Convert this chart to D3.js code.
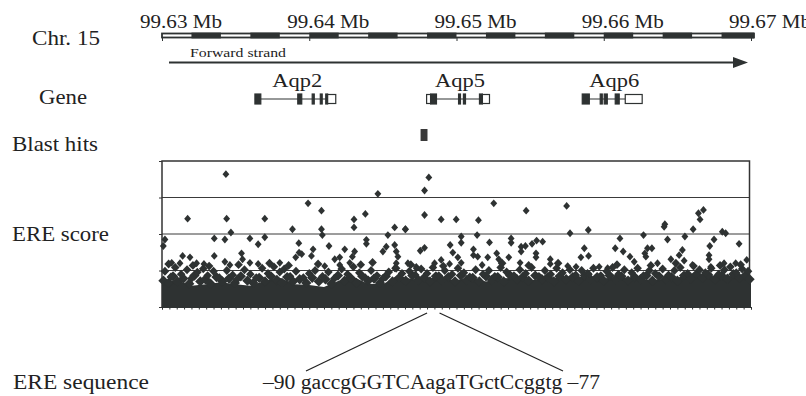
<!DOCTYPE html>
<html>
<head>
<meta charset="utf-8">
<script src="https://cdn.jsdelivr.net/npm/d3@7"></script>
<style>
  body { margin: 0; background: #fff; }
  svg { display: block; }
  text { font-family: "Liberation Serif", "Times New Roman", serif; fill: #222; }
</style>
</head>
<body>
<svg id="chart" width="806" height="396"></svg>
<script>
// region shown: 99.63 - 99.67 Mb on chr 15, positions below are kb from 99.63 Mb
const regionStart = 99.63;
const rulerTicks = [0, 10, 20, 30, 40];
const rulerLabels = ["99.63 Mb", "99.64 Mb", "99.65 Mb", "99.66 Mb", "99.67 Mb"];
const rulerDark = [2, 6, 10, 14, 18, 22, 26, 30, 34, 38]; // 2 kb dark blocks

const genes = [
  { name: "Aqp2", exons: [[6.31, 6.71, "cds"], [9.22, 9.49, "cds"], [10.2, 10.34, "cds"], [10.75, 10.88, "cds"], [11.12, 11.25, "cds"], [11.25, 11.8, "utr"]] },
  { name: "Aqp5", exons: [[17.97, 18.24, "utr"], [18.24, 18.64, "cds"], [20.14, 20.27, "cds"], [20.47, 20.61, "cds"], [21.56, 21.76, "cds"], [21.76, 22.24, "utr"]] },
  { name: "Aqp6", exons: [[28.54, 29.02, "cds"], [29.76, 29.9, "cds"], [30.03, 30.24, "cds"], [30.78, 31.05, "cds"], [31.46, 32.61, "utr"]] }
];

const blastHits = [[17.56, 18.03]];
const ereSite = [18.0, 18.85];
const ereSequence = "\u201390 gaccgGGTCAagaTGctCcggtg \u201377";

// ERE score, single sites [kb, score]
const ereHigh = [
  [4.34, 3.64], [1.74, 2.42], [4.39, 2.42], [6.98, 2.42], [9.92, 2.84], [10.83, 2.64], [14.66, 3.1], [13.81, 2.55],
  [13.04, 2.4], [13.04, 2.18], [8.86, 2.13], [10.83, 2.13], [10.89, 1.97], [15.8, 2.18], [16.52, 2.13], [4.68, 2.04],
  [3.55, 1.88], [4.27, 1.85], [5.97, 1.88], [6.98, 1.91], [6.53, 1.72], [0.2, 1.85], [0.09, 1.67], [9.29, 1.75],
  [11.34, 1.67], [10.26, 1.58], [10.15, 1.4], [9.31, 1.49], [9.08, 1.36], [9.49, 1.45], [12.41, 1.58], [12.07, 1.36],
  [13.08, 1.52], [12.93, 1.38], [13.88, 1.84], [13.88, 1.73], [15.34, 1.97], [15.0, 1.52], [15.23, 1.65], [15.8, 1.7],
  [15.91, 1.52], [16.02, 1.38], [15.91, 1.2], [15.8, 1.06], [16.7, 1.2], [17.27, 1.06], [3.55, 1.4], [5.4, 1.47],
  [5.47, 1.31], [5.97, 1.21], [1.4, 1.4], [1.9, 1.36], [0.66, 1.21], [1.22, 1.2], [2.35, 1.2], [2.85, 1.18],
  [4.27, 1.24], [4.61, 1.15], [6.53, 1.18], [8.0, 1.21], [11.05, 1.12], [11.73, 1.31], [12.07, 1.15], [12.75, 1.21],
  [18.12, 3.55], [17.83, 3.19], [17.83, 2.52], [18.96, 2.4], [19.98, 2.4], [21.49, 2.38], [22.53, 2.84], [24.73, 2.64],
  [27.48, 2.77], [27.71, 2.02], [28.95, 2.11], [16.54, 2.13], [21.4, 1.97], [20.32, 1.93], [20.32, 1.76], [19.57, 1.7],
  [17.83, 1.62], [17.54, 1.54], [22.24, 1.77], [23.71, 1.88], [23.71, 1.76], [24.39, 1.65], [24.39, 1.52], [24.68, 1.67],
  [25.13, 1.73], [25.44, 1.82], [25.85, 1.79], [25.4, 1.47], [25.4, 1.36], [19.75, 1.49], [20.09, 1.36], [20.32, 1.21],
  [21.15, 1.58], [21.15, 1.42], [21.44, 1.38], [22.12, 1.36], [22.73, 1.47], [22.87, 1.31], [21.74, 1.15], [23.55, 1.36],
  [24.32, 1.21], [26.37, 1.31], [26.37, 1.18], [28.68, 1.61], [28.45, 1.36], [28.97, 1.4], [31.1, 1.88], [30.78, 1.61],
  [31.32, 1.52], [32.7, 1.97], [33.27, 1.61], [32.97, 1.61], [32.79, 1.47], [32.86, 1.38], [31.78, 1.38], [32.07, 1.24],
  [34.15, 2.27], [34.1, 2.2], [34.33, 1.85], [33.65, 1.2], [34.56, 1.31], [35.51, 1.93], [35.34, 1.56], [35.12, 1.42],
  [35.46, 1.27], [36.07, 2.13], [36.77, 2.66], [36.43, 2.57], [36.54, 2.4], [37.49, 1.85], [37.2, 1.67], [37.15, 1.42],
  [37.15, 1.31], [38.05, 2.06], [38.28, 2.02], [39.19, 1.73], [39.71, 1.29], [36.02, 1.15], [37.27, 1.1], [29.69, 1.1],
  [30.26, 1.06], [18.51, 1.2], [17.27, 1.1], [19.53, 1.18], [18.96, 1.29], [28.12, 1.1], [29.02, 0.9], [27.55, 1.12],
  [38.96, 1.2], [38.17, 1.2]
];

// loose sites just above the dense mass
const ereCloud = [
  [0.2, 0.98], [0.6, 0.82], [0.9, 1.08], [1.3, 0.9], [1.7, 1.02], [2.0, 0.78], [2.4, 0.95], [2.8, 1.05],
  [3.1, 0.86], [3.5, 0.98], [3.9, 0.8], [4.4, 1.0], [4.8, 0.88], [5.1, 0.76], [5.6, 1.02], [6.0, 0.9],
  [6.4, 0.8], [6.8, 1.06], [7.2, 0.92], [7.6, 1.1], [8.0, 0.96], [8.3, 1.04], [8.7, 0.84], [9.1, 0.98],
  [9.6, 0.8], [10.0, 0.92], [10.4, 1.0], [10.9, 0.84], [11.3, 0.96], [11.7, 0.78], [12.2, 1.04], [12.6, 0.9],
  [13.0, 1.1], [13.4, 0.94], [13.8, 0.8], [14.2, 1.0], [14.6, 0.86], [15.0, 0.78], [15.4, 0.96], [15.9, 1.06],
  [16.3, 0.92], [16.8, 0.98], [17.2, 0.88], [17.6, 1.04], [18.0, 0.92], [18.4, 1.08], [18.8, 0.86], [19.2, 1.0],
  [19.7, 0.9], [20.1, 1.06], [20.5, 0.94], [20.9, 0.82], [21.3, 1.02], [21.8, 0.9], [22.2, 1.0], [22.6, 0.84],
  [23.0, 1.08], [23.4, 0.96], [23.9, 0.86], [24.3, 1.02], [24.7, 0.92], [25.1, 1.08], [25.6, 0.84], [26.0, 1.0],
  [26.4, 0.9], [26.8, 1.06], [27.2, 0.94], [27.7, 1.02], [28.1, 0.88], [28.5, 1.0], [28.9, 0.92], [29.3, 1.06],
  [29.8, 0.86], [30.2, 0.98], [30.6, 1.08], [31.0, 0.9], [31.4, 1.02], [31.9, 0.94], [32.3, 1.06], [32.7, 0.86],
  [33.1, 1.0], [33.5, 0.92], [34.0, 1.04], [34.4, 0.88], [34.8, 1.0], [35.2, 1.08], [35.7, 0.92], [36.1, 1.12],
  [36.5, 1.02], [36.9, 0.94], [37.3, 1.06], [37.8, 0.9], [38.2, 1.02], [38.6, 1.1], [39.0, 0.94], [39.4, 1.04],
  [39.8, 0.98], [0.45, 1.18], [2.1, 1.14], [3.2, 1.12], [5.2, 1.16], [7.3, 1.2], [8.6, 1.14], [10.6, 1.18],
  [13.5, 1.16], [14.3, 1.22], [16.9, 1.16], [19.1, 1.12], [23.1, 1.2], [24.9, 1.14], [26.9, 1.2], [30.9, 1.16],
  [33.2, 1.14], [34.9, 1.2], [37.9, 1.14], [39.3, 1.16]
];

// lower layer of the low-score cloud
const ereCloudLow = [
  [0.1, 0.72], [0.45, 0.66], [0.75, 0.84], [1.05, 0.7], [1.45, 0.78], [1.85, 0.64], [2.2, 0.86], [2.6, 0.7],
  [2.95, 0.76], [3.3, 0.64], [3.7, 0.82], [4.1, 0.7], [4.55, 0.78], [4.95, 0.66], [5.35, 0.84], [5.8, 0.72],
  [6.2, 0.66], [6.6, 0.8], [7.0, 0.7], [7.4, 0.84], [7.8, 0.74], [8.15, 0.66], [8.5, 0.82], [8.9, 0.7],
  [9.35, 0.76], [9.8, 0.66], [10.2, 0.8], [10.65, 0.7], [11.1, 0.76], [11.5, 0.64], [11.95, 0.86], [12.4, 0.72],
  [12.8, 0.8], [13.2, 0.66], [13.6, 0.84], [14.0, 0.72], [14.4, 0.78], [14.8, 0.66], [15.2, 0.84], [15.65, 0.7],
  [16.1, 0.8], [16.55, 0.72], [17.0, 0.86], [17.4, 0.74], [17.8, 0.8], [18.2, 0.7], [18.6, 0.84], [19.0, 0.74],
  [19.45, 0.82], [19.9, 0.7], [20.3, 0.86], [20.7, 0.74], [21.1, 0.8], [21.55, 0.7], [22.0, 0.84], [22.4, 0.74],
  [22.8, 0.82], [23.2, 0.7], [23.65, 0.86], [24.1, 0.76], [24.5, 0.82], [24.9, 0.72], [25.35, 0.86], [25.8, 0.76],
  [26.2, 0.82], [26.6, 0.7], [27.0, 0.84], [27.45, 0.76], [27.9, 0.82], [28.3, 0.72], [28.7, 0.86], [29.1, 0.76],
  [29.55, 0.82], [30.0, 0.72], [30.4, 0.86], [30.8, 0.76], [31.2, 0.84], [31.65, 0.72], [32.1, 0.82], [32.5, 0.76],
  [32.9, 0.86], [33.3, 0.72], [33.75, 0.84], [34.2, 0.76], [34.6, 0.82], [35.0, 0.72], [35.45, 0.86], [35.9, 0.78],
  [36.3, 0.9], [36.7, 0.8], [37.1, 0.88], [37.55, 0.76], [38.0, 0.86], [38.4, 0.78], [38.8, 0.9], [39.2, 0.8],
  [39.6, 0.86], [39.9, 0.76]
];

// top of the solid mass of low scores, one value per kb (0..40)
const denseTop = [0.66, 0.74, 0.58, 0.62, 0.68, 0.62, 0.58, 0.72, 0.8, 0.62, 0.6, 0.55, 0.72, 0.82, 0.64, 0.62,
  0.86, 0.76, 0.8, 0.78, 0.74, 0.8, 0.7, 0.78, 0.8, 0.72, 0.82, 0.8, 0.84, 0.8, 0.78, 0.82, 0.8, 0.74, 0.76, 0.8,
  0.92, 0.86, 0.82, 0.86, 0.82];
const scoreGrid = [1, 2, 3];

const ink = "#2e3232";
let svg = d3.select("#chart");

let x = d3.scaleLinear().domain([0, 40]).range([162, 751]);
let y = d3.scaleLinear().domain([0, 4]).range([307, 161]);

// row labels
const rowLabels = [
  { t: "Chr. 15", x: 32, y: 45, size: 20, len: 68 },
  { t: "Gene", x: 39, y: 104, size: 21, len: 48 },
  { t: "Blast hits", x: 12, y: 151, size: 21, len: 86 },
  { t: "ERE score", x: 12, y: 241, size: 21, len: 97 },
  { t: "ERE sequence", x: 13, y: 389, size: 20, len: 136 }
];
svg.selectAll(".rowlabel")
  .data(rowLabels)
  .enter()
  .append("text")
  .attr("class", "rowlabel")
  .attr("x", (d) => d.x)
  .attr("y", (d) => d.y)
  .attr("font-size", (d) => d.size)
  .attr("textLength", (d) => d.len)
  .attr("lengthAdjust", "spacingAndGlyphs")
  .text((d) => d.t);

// chromosome ruler
let ruler = svg.append("g");
ruler.append("rect")
  .attr("x", x(0))
  .attr("y", 33.5)
  .attr("width", x(40) - x(0) + 3)
  .attr("height", 4)
  .attr("fill", "#fff")
  .attr("stroke", ink)
  .attr("stroke-width", 1.8);
ruler.selectAll(".seg")
  .data(rulerDark)
  .enter()
  .append("rect")
  .attr("x", (d) => x(d))
  .attr("y", 32.6)
  .attr("width", (d) => x(d + 2) - x(d) + (d === 38 ? 3 : 0))
  .attr("height", 5.8)
  .attr("fill", ink);
ruler.append("g")
  .attr("transform", "translate(0,37)")
  .call(d3.axisBottom(x).tickValues(rulerTicks).tickSize(4).tickFormat(""))
  .call((g) => g.select(".domain").remove())
  .selectAll("line")
  .attr("stroke", ink);
ruler.selectAll(".rl")
  .data(rulerTicks)
  .enter()
  .append("text")
  .attr("x", (d) => x(d) + 19)
  .attr("y", 28)
  .attr("text-anchor", "middle")
  .attr("font-size", 19)
  .attr("textLength", 82)
  .attr("lengthAdjust", "spacingAndGlyphs")
  .text((d, i) => rulerLabels[i]);

// forward strand arrow
svg.append("line")
  .attr("x1", 169).attr("x2", 736)
  .attr("y1", 62.5).attr("y2", 62.5)
  .attr("stroke", ink).attr("stroke-width", 2);
svg.append("path")
  .attr("d", "M733,57L748,62.5L733,68Z")
  .attr("fill", ink);
svg.append("text")
  .attr("x", 190).attr("y", 57)
  .attr("font-size", 13.5)
  .attr("textLength", 96)
  .attr("lengthAdjust", "spacingAndGlyphs")
  .text("Forward strand");

// genes
const geneY = 99;
let gg = svg.selectAll(".gene")
  .data(genes)
  .enter()
  .append("g")
  .attr("class", "gene");
gg.append("line")
  .attr("x1", (d) => x(d.exons[0][0]))
  .attr("x2", (d) => x(d.exons[d.exons.length - 1][1]))
  .attr("y1", geneY).attr("y2", geneY)
  .attr("stroke", ink).attr("stroke-width", 1.2);
gg.selectAll("rect")
  .data((d) => d.exons)
  .enter()
  .append("rect")
  .attr("x", (e) => x(e[0]))
  .attr("width", (e) => Math.max(1.5, x(e[1]) - x(e[0])))
  .attr("y", (e) => (e[2] === "cds" ? geneY - 5 : geneY - 4.5))
  .attr("height", (e) => (e[2] === "cds" ? 10 : 9))
  .attr("fill", (e) => (e[2] === "cds" ? ink : "#fff"))
  .attr("stroke", ink)
  .attr("stroke-width", 1.2);
gg.append("text")
  .attr("x", (d) => (x(d.exons[0][0]) + x(d.exons[d.exons.length - 1][1])) / 2 + 2)
  .attr("y", 87)
  .attr("text-anchor", "middle")
  .attr("font-size", 19.5)
  .attr("textLength", 50)
  .attr("lengthAdjust", "spacingAndGlyphs")
  .text((d) => d.name);

// blast hits
svg.selectAll(".hit")
  .data(blastHits)
  .enter()
  .append("rect")
  .attr("x", (d) => x(d[0]))
  .attr("width", (d) => x(d[1]) - x(d[0]))
  .attr("y", 129)
  .attr("height", 12)
  .attr("fill", "#3a3a3a");

// ERE score panel
let plot = svg.append("g");
plot.selectAll(".grid")
  .data(scoreGrid)
  .enter()
  .append("line")
  .attr("x1", x(0)).attr("x2", x(40) - 1.5)
  .attr("y1", (d) => y(d)).attr("y2", (d) => y(d))
  .attr("stroke", "#3a3a3a").attr("stroke-width", 1);
plot.append("rect")
  .attr("x", x(0)).attr("y", y(4))
  .attr("width", x(40) - 1.5 - x(0))
  .attr("height", y(0) - y(4))
  .attr("fill", "none")
  .attr("stroke", "#333").attr("stroke-width", 1.5);
plot.append("g")
  .attr("transform", "translate(" + x(0) + ",0)")
  .call(d3.axisLeft(y).tickValues([0, 1, 2, 3, 4]).tickSize(3).tickFormat(""))
  .call((g) => g.select(".domain").remove())
  .selectAll("line").attr("stroke", "#333");
plot.append("g")
  .attr("transform", "translate(0," + y(0) + ")")
  .call(d3.axisBottom(x).tickValues(d3.range(0, 40.1, 0.5)).tickSize(2.5).tickFormat(""))
  .call((g) => g.select(".domain").attr("stroke", ink))
  .selectAll("line").attr("stroke", ink);

let area = d3.area()
  .x((d, i) => x(i))
  .y0(y(0))
  .y1((d) => y(d));
plot.append("path")
  .datum(denseTop)
  .attr("d", area)
  .attr("fill", ink);

let diamond = d3.symbol().type(d3.symbolDiamond2).size(30);
plot.selectAll(".low")
  .data(ereCloudLow)
  .enter()
  .append("path")
  .attr("class", "low")
  .attr("transform", (d) => "translate(" + x(d[0]) + "," + y(d[1]) + ") scale(1.5,1.5)")
  .attr("d", diamond)
  .attr("fill", ink);
plot.selectAll(".cloud")
  .data(ereCloud)
  .enter()
  .append("path")
  .attr("class", "cloud")
  .attr("transform", (d) => "translate(" + x(d[0]) + "," + y(d[1]) + ") scale(1.25,1.3)")
  .attr("d", diamond)
  .attr("fill", ink);
plot.selectAll(".site")
  .data(ereHigh)
  .enter()
  .append("path")
  .attr("class", "site")
  .attr("transform", (d) => "translate(" + x(d[0]) + "," + y(d[1]) + ") scale(1,1.15)")
  .attr("d", diamond)
  .attr("fill", ink);

// zoom-in lines to the sequence
svg.append("line")
  .attr("x1", x(ereSite[0])).attr("y1", 313)
  .attr("x2", 306).attr("y2", 371)
  .attr("stroke", "#222").attr("stroke-width", 1.3);
svg.append("line")
  .attr("x1", x(ereSite[1])).attr("y1", 313)
  .attr("x2", 563).attr("y2", 371)
  .attr("stroke", "#222").attr("stroke-width", 1.3);
svg.append("text")
  .attr("x", 263).attr("y", 389)
  .attr("font-size", 20)
  .attr("textLength", 337)
  .attr("lengthAdjust", "spacingAndGlyphs")
  .text(ereSequence);
</script>
</body>
</html>
